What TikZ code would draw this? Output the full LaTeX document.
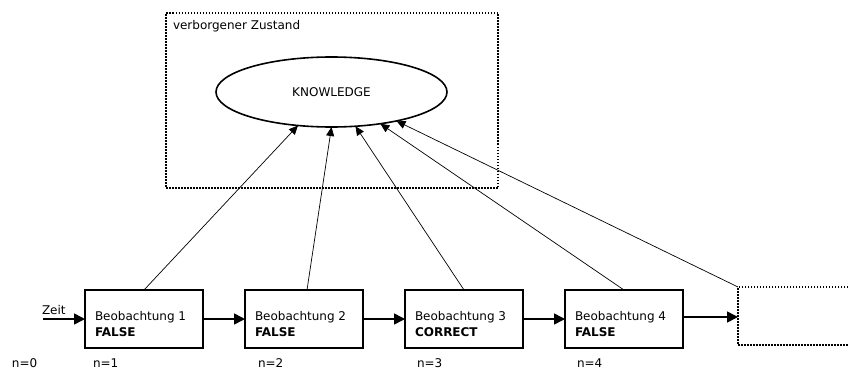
\documentclass[tikz,border=0pt]{standalone}
\usepackage{fontspec}
\setmainfont{DejaVu Sans}
\usetikzlibrary{arrows.meta,shapes.geometric}
\begin{document}
\begin{tikzpicture}[x=1pt,y=-1pt,
  every node/.style={font=\fontsize{12}{14}\selectfont, inner sep=0pt, outer sep=0pt},
  obsbox/.style={draw, line width=1.6pt, minimum width=118pt, minimum height=58pt, anchor=north west},
  dotbox/.style={draw, line width=1.5pt, dash pattern=on 1.5pt off 1.5pt},
  flow/.style={line width=1.6pt, -{Triangle[length=11pt,width=11pt]}},
  infer/.style={line width=0.7pt, -{Triangle[length=9pt,width=8pt]}},
  txt/.style={anchor=base west}]
\useasboundingbox (0,0) rectangle (848,369);

% hidden state
\node[dotbox, minimum width=332pt, minimum height=175pt, anchor=north west] (hidden) at (166,13) {};
\node[txt] (hiddenlbl) at (173,30) {verborgener Zustand};
\node[draw, ellipse, line width=1.6pt, minimum width=231pt, minimum height=70pt] (k) at (331.5,92) {KNOWLEDGE};

% observations
\node[obsbox] (b1) at (85,290) {};
\node[obsbox] (b2) at (245,290) {};
\node[obsbox] (b3) at (405,290) {};
\node[obsbox] (b4) at (565,290) {};
\node[txt] (b1t) at (95,320.5) {Beobachtung 1};
\node[txt] (b1s) at (95,336.5) {\bfseries FALSE};
\node[txt] (b2t) at (255,320.5) {Beobachtung 2};
\node[txt] (b2s) at (255,336.5) {\bfseries FALSE};
\node[txt] (b3t) at (415,320.5) {Beobachtung 3};
\node[txt] (b3s) at (415,336.5) {\bfseries CORRECT};
\node[txt] (b4t) at (575,320.5) {Beobachtung 4};
\node[txt] (b4s) at (575,336.5) {\bfseries FALSE};

% next observation, cut off at the right edge
\begin{scope}
\clip (0,0) rectangle (848,369);
\node[dotbox, minimum width=140pt, minimum height=58pt, anchor=north west] (b5) at (738,287) {};
\end{scope}

% time axis
\coordinate (start) at (43,319);
\node[txt] (zeit) at (42,314) {Zeit};
\draw[flow] (start) -- (b1.west);
\draw[flow] (b1.east) -- (b2.west);
\draw[flow] (b2.east) -- (b3.west);
\draw[flow] (b3.east) -- (b4.west);
\draw[flow] (b4.east |- 0,317) -- (b5.west |- 0,317);

% step labels
\node[txt] (n0) at (12,367) {n=0};
\node[txt] (n1) at (93,367) {n=1};
\node[txt] (n2) at (258,367) {n=2};
\node[txt] (n3) at (417,367) {n=3};
\node[txt] (n4) at (577,367) {n=4};

% observations feed the hidden state
\draw[infer] (b1.north) -- (k.225);
\draw[infer] (b2.north) ++(3,0) -- (k.270.5);
\draw[infer] (b3.north) -- (k.305);
\draw[infer] (b4.north) -- (k.327.5);
\draw[infer] (b5.north west) -- (k.336.5);
\end{tikzpicture}
\end{document}
